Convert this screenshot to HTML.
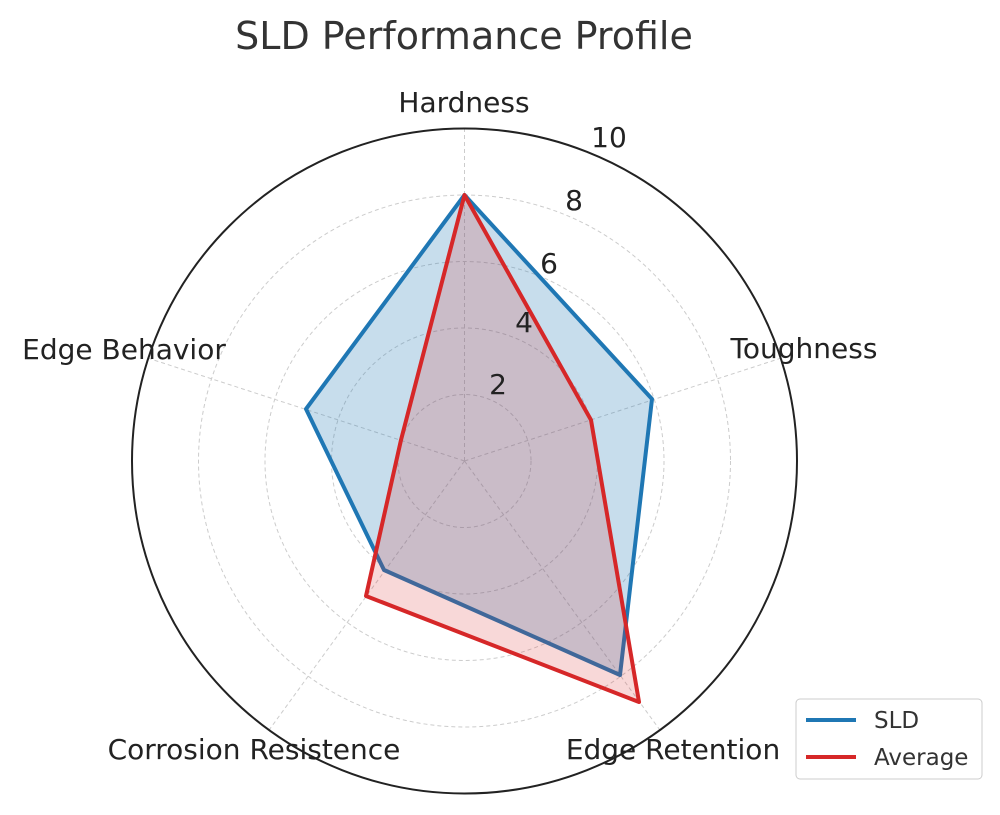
<!DOCTYPE html>
<html><head><style>body{margin:0;background:#fff}</style></head><body>
<svg width="1000" height="810" xmlns="http://www.w3.org/2000/svg" font-family="DejaVu Sans, Liberation Sans, sans-serif">
<rect width="1000" height="810" fill="#fff"/>
<text x="464" y="49" font-size="38" text-anchor="middle" fill="#333">SLD Performance Profile</text>
<g fill="none" stroke="#ccc" stroke-width="1" stroke-dasharray="4,3">
<circle cx="464.5" cy="461" r="66.5"/><circle cx="464.5" cy="461" r="133"/><circle cx="464.5" cy="461" r="199.5"/><circle cx="464.5" cy="461" r="266"/>
<line x1="464.5" y1="461" x2="464.5" y2="129"/>
<line x1="464.5" y1="461" x2="780.2" y2="358.4"/>
<line x1="464.5" y1="461" x2="659.6" y2="729.6"/>
<line x1="464.5" y1="461" x2="269.4" y2="729.6"/>
<line x1="464.5" y1="461" x2="148.8" y2="358.4"/>
</g>
<circle cx="464.5" cy="461" r="332.5" fill="none" stroke="#222" stroke-width="2"/>
<polygon points="464.5,195 652,399 620,675 384,570 306,409" fill="#1f77b4" fill-opacity="0.25" stroke="#1f77b4" stroke-width="4" stroke-linejoin="round"/>
<polygon points="464.5,195 591,420 639,702 366,596 401,440" fill="#d62728" fill-opacity="0.18" stroke="#d62728" stroke-width="4" stroke-linejoin="round"/>
<g font-size="28" fill="#222" text-anchor="middle">
<text x="464" y="112">Hardness</text>
<text x="804" y="358">Toughness</text>
<text x="673" y="759">Edge Retention</text>
<text x="254" y="759">Corrosion Resistence</text>
<text x="124" y="359">Edge Behavior</text>
<text x="609" y="147">10</text>
<text x="574" y="210">8</text>
<text x="549" y="273">6</text>
<text x="524" y="332">4</text>
<text x="498" y="394">2</text>
</g>
<rect x="796" y="699" width="186" height="80" rx="4" fill="#fff" stroke="#ccc"/>
<line x1="806" y1="720" x2="856" y2="720" stroke="#1f77b4" stroke-width="4"/>
<line x1="806" y1="757" x2="856" y2="757" stroke="#d62728" stroke-width="4"/>
<g font-size="23" fill="#333"><text x="874" y="728">SLD</text><text x="874" y="765">Average</text></g>
</svg>
</body></html>
